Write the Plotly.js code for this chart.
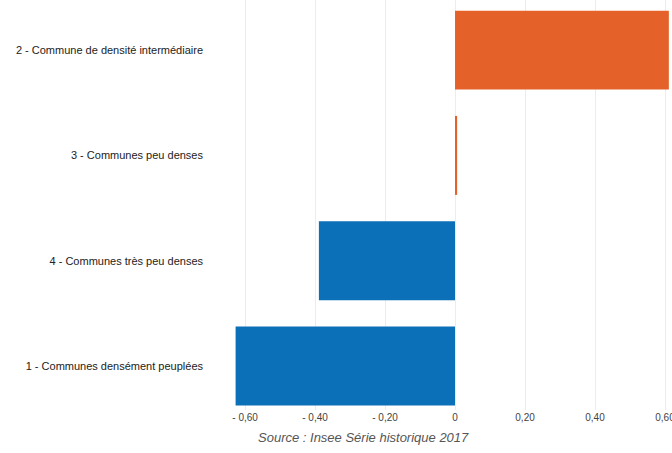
<!DOCTYPE html>
<html>
<head>
<meta charset="utf-8">
<script src="https://cdn.plot.ly/plotly-3.0.1.min.js"></script>
<style>
html,body{margin:0;padding:0;background:#fff;}
#chart{width:672px;height:453px;}
</style>
</head>
<body>
<div id="chart"></div>
<script>
// Categories listed bottom to top
const categories = [
  "1 - Communes densément peuplées",
  "4 - Communes très peu denses",
  "3 - Communes peu denses",
  "2 - Commune de densité intermédiaire"
];
const values = [-0.627, -0.389, 0.006, 0.611];
const tickValues = [-0.6, -0.4, -0.2, 0, 0.2, 0.4, 0.6];
const tickLabels = ["- 0,60", "- 0,40", "- 0,20", "0", "0,20", "0,40", "0,60"];
const sourceText = "Source : Insee Série historique 2017";

const POS = "#e4622a", NEG = "#0b70b8";
const colors = values.map(v => v >= 0 ? POS : NEG);

const trace = {
  type: "bar",
  orientation: "h",
  y: categories,
  x: values,
  width: 0.75,
  marker: {color: colors, line: {width: 0}},
  hoverinfo: "x+y"
};

const layout = {
  width: 672, height: 453,
  margin: {l: 230, r: 0, t: 0, b: 43, pad: 0},
  paper_bgcolor: "#fff", plot_bgcolor: "#fff",
  showlegend: false,
  font: {family: "Liberation Sans, Arial, sans-serif", size: 10, color: "#333"},
  xaxis: {
    range: [-0.643, 0.62],
    tickvals: tickValues,
    ticktext: tickLabels,
    ticklabeloverflow: "allow",
    showgrid: true, gridcolor: "#ececec", gridwidth: 1,
    zeroline: false, showline: false, ticks: "",
    tickfont: {size: 10, color: "#444"}
  },
  yaxis: {
    type: "category",
    categoryorder: "array", categoryarray: categories,
    range: [-0.418, 3.476],
    showgrid: false, zeroline: false, showline: false,
    ticks: "", ticklabelstandoff: 26,
    tickfont: {size: 11, color: "#222"}
  },
  annotations: [{
    text: sourceText,
    xref: "paper", yref: "paper",
    x: (363 - 230) / 442, y: -0.068,
    xanchor: "center", yanchor: "middle",
    showarrow: false,
    font: {family: "Liberation Sans, Arial, sans-serif", size: 13, color: "#555", style: "italic"}
  }]
};

Plotly.newPlot("chart", [trace], layout, {displayModeBar: false, staticPlot: true});
</script>
</body>
</html>
